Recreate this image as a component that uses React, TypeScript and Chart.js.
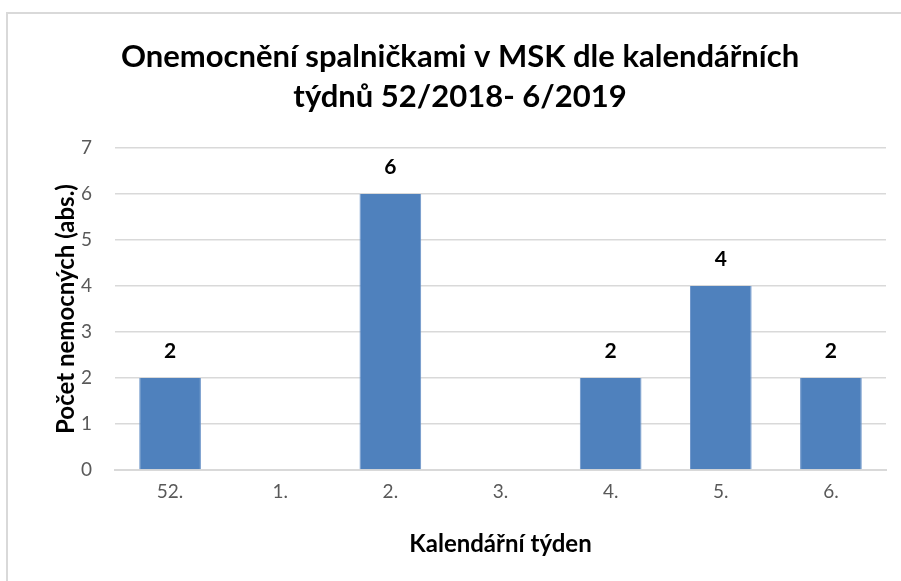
import React, { useEffect, useRef } from "react";
import { Chart, registerables } from "chart.js";

Chart.register(...registerables);

const categories = ["52.", "1.", "2.", "3.", "4.", "5.", "6."];
const cases = [2, 0, 6, 0, 2, 4, 2];
const titleLines = ["Onemocnění spalničkami v MSK dle kalendářních", "týdnů 52/2018- 6/2019"];
const xTitle = "Kalendářní týden";
const yTitle = "Počet nemocných (abs.)";

const FONT = "Lato, 'Open Sans', sans-serif";

const labelPlugin = {
  id: "barLabels",
  afterDatasetsDraw(chart: any) {
    const ctx = chart.ctx;
    const meta = chart.getDatasetMeta(0);
    ctx.save();
    ctx.font = `bold 21px ${FONT}`;
    ctx.fillStyle = "#000";
    ctx.textAlign = "center";
    ctx.textBaseline = "middle";
    meta.data.forEach((bar: any, i: number) => {
      const v = cases[i];
      if (!v) return;
      ctx.fillText(String(v), bar.x, bar.y - 27);
    });
    ctx.restore();
  },
};

export default function App() {
  const ref = useRef<HTMLCanvasElement>(null);
  useEffect(() => {
    if (!ref.current) return;
    const chart = new Chart(ref.current, {
      type: "bar",
      data: {
        labels: categories,
        datasets: [
          {
            data: cases,
            backgroundColor: "#4F81BD",
            borderColor: "#6A93C8",
            borderWidth: { left: 1, right: 1, top: 0, bottom: 0 },
            categoryPercentage: 0.56,
            barPercentage: 1,
          },
        ],
      },
      options: {
        animation: false,
        responsive: false,
        maintainAspectRatio: false,
        layout: { padding: { left: 34, right: 15, top: 0, bottom: 0 } },
        plugins: {
          legend: { display: false },
          tooltip: { enabled: false },
          title: {
            display: true,
            text: titleLines,
            color: "#000",
            font: { family: FONT, size: 31, weight: "bold", lineHeight: 1.29 },
            padding: { top: 37, bottom: 31 },
          },
        },
        scales: {
          x: {
            grid: { display: false, drawTicks: false },
            border: { display: true, color: "#D9D9D9", width: 2 },
            ticks: { color: "#595959", font: { family: FONT, size: 19 }, padding: 10 },
            title: {
              display: true,
              text: xTitle,
              color: "#000",
              font: { family: FONT, size: 24, weight: "bold" },
              padding: { top: 0, bottom: 22 },
            },
            afterFit(scale: any) {
              scale.height = 581 - 470;
            },
          },
          y: {
            min: 0,
            max: 7,
            grid: { color: "#D9D9D9", lineWidth: 1.5, drawTicks: false },
            border: { display: false },
            ticks: { stepSize: 1, color: "#595959", font: { family: FONT, size: 19 }, padding: 23 },
            title: {
              display: true,
              text: yTitle,
              color: "#000",
              font: { family: FONT, size: 24, weight: "bold" },
              padding: { top: 18, bottom: 0 },
            },
            afterFit(scale: any) {
              scale.width = 81;
            },
          },
        },
      },
      plugins: [labelPlugin],
    });
    return () => chart.destroy();
  }, []);
  return (
    <div style={{ position: "absolute", left: 0, top: 0, width: 901, height: 581, background: "#fff" }}>
      <canvas ref={ref} width={901} height={581} style={{ position: "absolute", left: 0, top: 0 }} />
      <div
        style={{
          position: "absolute",
          left: 6,
          top: 12,
          right: 0,
          bottom: 0,
          borderLeft: "2px solid #D9D9D9",
          borderTop: "2px solid #D9D9D9",
          pointerEvents: "none",
        }}
      />
    </div>
  );
}
